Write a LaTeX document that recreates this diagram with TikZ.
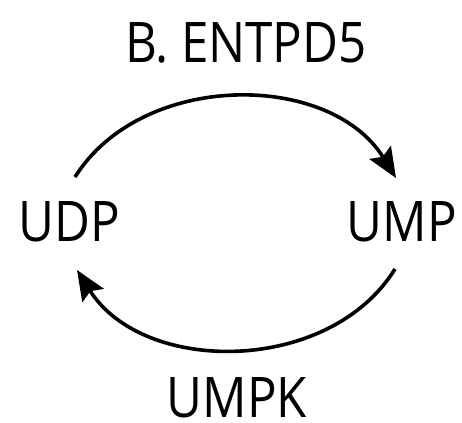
\documentclass[tikz,border=0pt]{standalone}
\usepackage{fontspec}
\setmainfont[FakeStretch=0.88]{Open Sans}
\usetikzlibrary{arrows.meta}
\begin{document}
\begin{tikzpicture}[x=1pt,y=1pt,
  label/.style={inner sep=0pt, anchor=base, font=\fontsize{56}{60}\selectfont},
  flow/.style={line width=3.6pt, -{Stealth[length=30pt,width=25pt,inset=5pt]}}]
  \useasboundingbox (0,0) rectangle (462,422);
  % metabolites and enzymes
  \node[label] (udp) at (69,180) {UDP};
  \node[label] (ump) at (402,180) {UMP};
  \node[label] (entpd) at (246,359) {B. ENTPD5};
  \node[label] (umpk) at (237,5) {UMPK};
  % arc end points
  \coordinate (a1) at (75,245);
  \coordinate (a2) at (396,244);
  \coordinate (b1) at (395,153);
  \coordinate (b2) at (77,152);
  % reactions
  \draw[flow] (a1) to[bend left=58] (a2);
  \draw[flow] (b1) to[bend left=58] (b2);
\end{tikzpicture}
\end{document}
